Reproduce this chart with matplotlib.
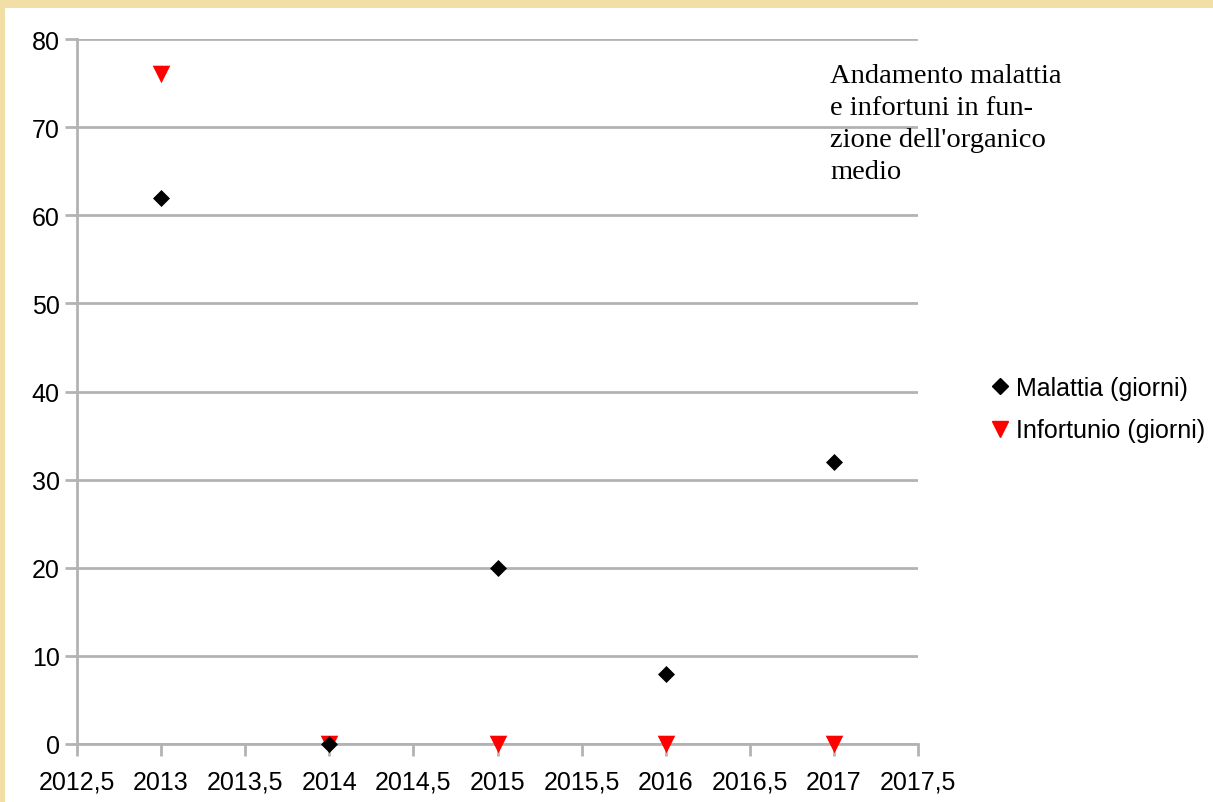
import numpy as np
import matplotlib.pyplot as plt
from matplotlib.patches import Rectangle
from matplotlib.lines import Line2D

# dati
anni = [2013, 2014, 2015, 2016, 2017]
malattia = [62, 0, 20, 8, 32]
infortunio = [76, 0, 0, 0, 0]
x_ticks = [2012.5, 2013, 2013.5, 2014, 2014.5, 2015, 2015.5, 2016, 2016.5, 2017, 2017.5]
y_ticks = [0, 10, 20, 30, 40, 50, 60, 70, 80]

grigio = '#b3b3b3'

fig = plt.figure(figsize=(12.13, 8.03), dpi=100)
fig.patch.set_facecolor('#f2dfa6')
# area bianca della diapositiva
fig.patches.append(Rectangle((5 / 1213, 0), 1, 1 - 9 / 803, transform=fig.transFigure,
                             facecolor='white', edgecolor='none', zorder=-5))

ax = fig.add_axes([77 / 1213, 1 - 745 / 803, (918 - 77) / 1213, (745 - 40) / 803])
ax.set_facecolor('white')

ax.scatter(anni, infortunio, marker='v', s=160, color='#ff0000', linewidths=0, zorder=3,
           clip_on=False)
ax.scatter(anni, malattia, marker='D', s=75, color='black', linewidths=0, zorder=4,
           clip_on=False)

ax.set_xlim(2012.5, 2017.5)
ax.set_ylim(0, 80)
ax.set_xticks(x_ticks)
ax.set_xticklabels([str(v).replace('.', ',') if v % 1 else str(int(v)) for v in x_ticks])
ax.set_yticks(y_ticks)

ax.grid(axis='y', color=grigio, linewidth=2)
ax.set_axisbelow(True)
for s in ['top', 'right']:
    ax.spines[s].set_visible(False)
ax.spines['left'].set_color(grigio)
ax.spines['left'].set_linewidth(2)
ax.spines['bottom'].set_color(grigio)
ax.spines['bottom'].set_linewidth(2)

ax.tick_params(axis='both', colors=grigio, width=2, length=8.5, labelcolor='black',
               labelsize=18, labelfontfamily='Liberation Sans')
ax.tick_params(axis='x', pad=10)
ax.tick_params(axis='y', pad=4)

# titolo
fig.text(830 / 1213, 1 - 64 / 803,
         "Andamento malattia\ne infortuni in fun-\nzione dell'organico\nmedio",
         family='Liberation Serif', fontsize=20.5, va='top', ha='left', linespacing=1.36)

# legenda
handles = [Line2D([], [], marker='D', color='black', linestyle='none', markersize=8),
           Line2D([], [], marker='v', color='#ff0000', linestyle='none', markersize=12)]
fig.legend(handles, ['Malattia (giorni)', 'Infortunio (giorni)'],
           loc='center left', bbox_to_anchor=(980 / 1213, 1 - 410 / 803),
           frameon=False, prop={'family': 'Liberation Sans', 'size': 18},
           handlelength=0.6, handletextpad=0.35, labelspacing=0.75, borderpad=0)

fig.savefig('out.png', dpi=100, facecolor=fig.get_facecolor())
